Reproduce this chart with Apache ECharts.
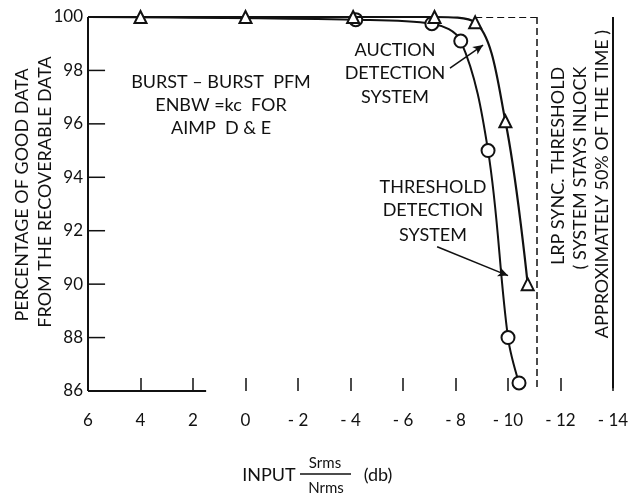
<!DOCTYPE html>
<html><head><meta charset="utf-8">
<script src="https://cdn.jsdelivr.net/npm/echarts@6/dist/echarts.min.js"></script>
<style>html,body{margin:0;padding:0;background:#fff}#c{width:641px;height:498px}</style>
</head><body><div id="c"></div>
<script>
// Data
const auctionX = [6, 4, 0, -4.1, -7.2, -8.75, -9.9, -10.75];
const auctionY = [100, 100, 100, 100, 100, 99.8, 96.1, 90];
const thresholdX = [6, -4.2, -7.1, -8.2, -9.24, -10.0, -10.42];
const thresholdY = [100, 99.9, 99.75, 99.1, 95.0, 88.0, 86.3];
const xTicks = [6, 4, 2, 0, -2, -4, -6, -8, -10, -12, -14];
const yTicks = [86, 88, 90, 92, 94, 96, 98, 100];
const syncThresholdX = -11.1;
const FONT = 'Lato';

function pts(xs, ys) {
  return xs.map((x, i) => i === 0 ? { value: [x, ys[i]], symbol: 'none' } : [x, ys[i]]);
}

const X_MAX = 6, X_MIN = -14, Y_MIN = 86, Y_MAX = 100;
const Y_TICK_LEN = 0.65; // x units, about 17 px
const frameStyle = {type: 'solid', width: 2, color: '#111'};

// left axis line and inward ticks drawn as plain line series through the scales
const axisSeries = [{
  type: 'line', name: 'yAxisLine', data: [[X_MAX, Y_MIN], [X_MAX, Y_MAX]],
  symbol: 'none', clip: false, silent: true, z: 10,
  lineStyle: {color: '#111', width: 2}, itemStyle: {color: '#111'}
}].concat(yTicks.slice(1, -1).map(v => ({
  type: 'line', name: 'yTick' + v, data: [[X_MAX, v], [X_MAX - Y_TICK_LEN, v]],
  symbol: 'none', clip: false, silent: true, z: 10,
  lineStyle: {color: '#111', width: 1.5}, itemStyle: {color: '#111'}
})));

const chart = echarts.init(document.getElementById('c'));
const txt = {fill: '#111', fontFamily: FONT, fontSize: 18};
function T(x, y, text, rot, extra) {
  const o = {type: 'text', x: x, y: y, style: Object.assign({text: text, align: 'center', verticalAlign: 'middle'}, txt, extra || {})};
  if (rot) o.rotation = Math.PI / 2;
  return o;
}
chart.setOption({
  animation: false,
  backgroundColor: '#fff',
  grid: {left: 88, right: 28, top: 17, bottom: 107},
  xAxis: {
    type: 'value', min: X_MIN, max: X_MAX, interval: 2, inverse: true,
    axisLine: {show: false},
    axisTick: {inside: true, length: 13, lineStyle: {color: '#111', width: 1.5}},
    axisLabel: {margin: 21, color: '#111', fontFamily: FONT, fontSize: 17,
      formatter: v => v < 0 ? '- ' + (-v) : '' + v},
    splitLine: {show: false}
  },
  yAxis: {
    type: 'value', min: Y_MIN, max: Y_MAX, interval: 2,
    axisLine: {show: false},
    axisTick: {show: false},
    axisLabel: {margin: 5, color: '#111', fontFamily: FONT, fontSize: 17},
    splitLine: {show: false}
  },
  series: [
    {
      type: 'line', name: 'Auction', data: pts(auctionX, auctionY),
      smooth: 0.35, symbol: 'triangle', symbolSize: 12, clip: false,
      lineStyle: {color: '#111', width: 2.2},
      itemStyle: {color: '#fff', borderColor: '#111', borderWidth: 2},
      z: 3,
      markLine: {
        silent: true, symbol: ['none', 'none'], label: {show: false},
        data: [
          [{coord: [syncThresholdX, Y_MAX], lineStyle: {type: [7, 4], width: 1.5, color: '#111'}},
           {coord: [syncThresholdX, Y_MIN]}],
          [{coord: [-8.75, Y_MAX], lineStyle: {type: [7, 4], width: 1.2, color: '#111'}},
           {coord: [syncThresholdX, Y_MAX]}],
          [{coord: [X_MIN, Y_MAX], lineStyle: frameStyle}, {coord: [X_MIN, 86.1]}],
          [{coord: [X_MAX, Y_MIN], lineStyle: frameStyle}, {coord: [1.5, Y_MIN]}]
        ]
      }
    },
    {
      type: 'line', name: 'Threshold', data: pts(thresholdX, thresholdY),
      smooth: 0.35, symbol: 'circle', symbolSize: 13, clip: false,
      lineStyle: {color: '#111', width: 2},
      itemStyle: {color: '#fff', borderColor: '#111', borderWidth: 2},
      z: 2,
      markLine: {
        silent: true, symbol: ['none', 'arrow'], symbolSize: [7, 10], label: {show: false},
        lineStyle: {type: 'solid', width: 1.5, color: '#111'},
        data: [
          [{coord: [-7.79, 98.09]}, {coord: [-9.05, 98.95]}],
          [{coord: [-7.3, 91.4]}, {coord: [-10.0, 90.32]}]
        ]
      }
    }
  ].concat(axisSeries),
  graphic: [
    T(221, 82, 'BURST – BURST  PFM'),
    T(221, 105, 'ENBW =kc  FOR'),
    T(221, 128, 'AIMP  D & E'),
    T(395, 50, 'AUCTION'),
    T(395, 73, 'DETECTION'),
    T(395, 97, 'SYSTEM'),
    T(433, 187, 'THRESHOLD'),
    T(433, 210, 'DETECTION'),
    T(433, 235, 'SYSTEM'),
    T(558, 166, 'LRP SYNC. THRESHOLD', true),
    T(580, 168, '( SYSTEM STAYS INLOCK', true),
    T(602, 184, 'APPROXIMATELY 50% OF THE TIME )', true),
    T(22, 195, 'PERCENTAGE OF GOOD DATA', true),
    T(45, 192, 'FROM THE RECOVERABLE DATA', true),
    T(269, 475, 'INPUT'),
    T(325, 463, 'Srms', false, {fontSize: 15}),
    {type: 'line', shape: {x1: 300, y1: 474, x2: 351, y2: 474}, style: {stroke: '#111', lineWidth: 1.3}},
    T(326, 488, 'Nrms', false, {fontSize: 15}),
    T(378, 475, '(db)')
  ]
});
</script></body></html>
